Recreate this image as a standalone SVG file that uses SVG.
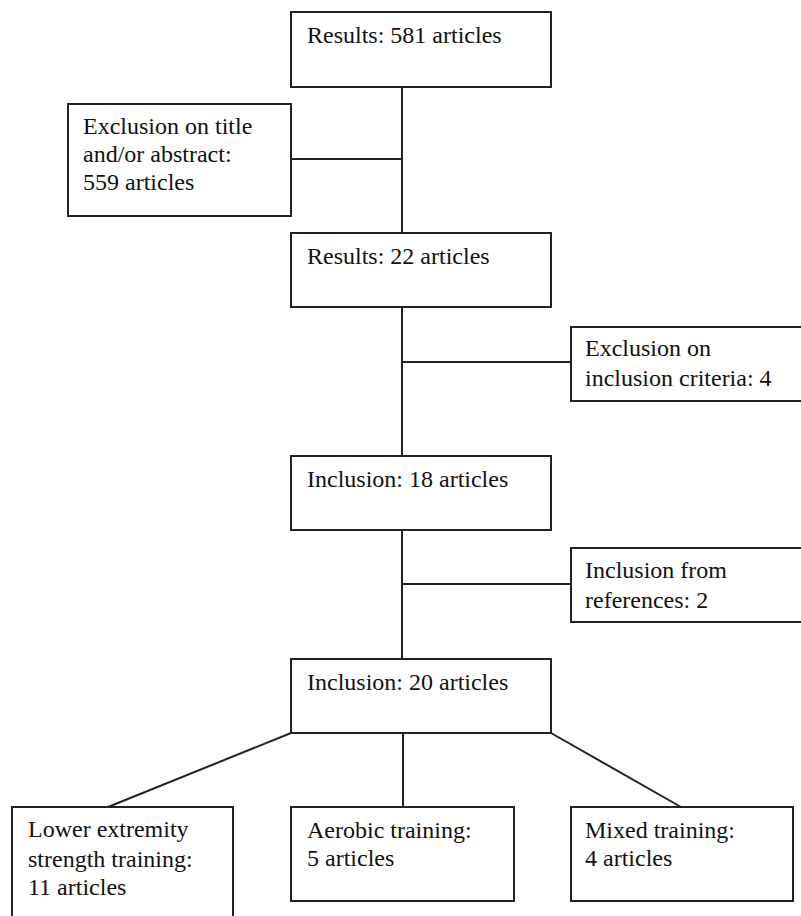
<svg xmlns="http://www.w3.org/2000/svg" width="801" height="916" viewBox="0 0 801 916">
<style>
.box{fill:#fff;stroke:#222;stroke-width:2}
.ln{stroke:#222;stroke-width:2;fill:none}
text{font-family:"Liberation Serif","Times New Roman",serif;font-size:24px;fill:#111}
</style>
<rect width="801" height="916" fill="#fff"/>
<g id="connectors">
<line class="ln" x1="402" y1="87" x2="402" y2="233"/>
<line class="ln" x1="291" y1="159" x2="402" y2="159"/>
<line class="ln" x1="402" y1="307" x2="402" y2="456"/>
<line class="ln" x1="402" y1="362" x2="571" y2="362"/>
<line class="ln" x1="402" y1="530" x2="402" y2="659"/>
<line class="ln" x1="402" y1="584" x2="571" y2="584"/>
<line class="ln" x1="403" y1="733" x2="403" y2="807"/>
<line class="ln" x1="291" y1="733" x2="108" y2="807"/>
<line class="ln" x1="551" y1="733" x2="681" y2="807"/>
</g>
<g id="n1"><rect class="box" x="291" y="12" width="260" height="75"/><text x="307" y="43">Results: 581 articles</text></g>
<g id="n2"><rect class="box" x="68" y="104" width="223" height="112"/><text x="83" y="134">Exclusion on title</text><text x="83" y="162">and/or abstract:</text><text x="83" y="190">559 articles</text></g>
<g id="n3"><rect class="box" x="291" y="233" width="260" height="74"/><text x="307" y="264">Results: 22 articles</text></g>
<g id="n4"><rect class="box" x="571" y="327" width="240" height="74"/><text x="585" y="356">Exclusion on</text><text x="585" y="386">inclusion criteria: 4</text></g>
<g id="n5"><rect class="box" x="291" y="456" width="260" height="74"/><text x="307" y="487">Inclusion: 18 articles</text></g>
<g id="n6"><rect class="box" x="571" y="548" width="240" height="74"/><text x="585" y="578">Inclusion from</text><text x="585" y="608">references: 2</text></g>
<g id="n7"><rect class="box" x="291" y="659" width="260" height="74"/><text x="307" y="690">Inclusion: 20 articles</text></g>
<g id="n8"><rect class="box" x="12" y="807" width="221" height="120"/><text x="28" y="837">Lower extremity</text><text x="28" y="867">strength training:</text><text x="28" y="895">11 articles</text></g>
<g id="n9"><rect class="box" x="291" y="807" width="223" height="94"/><text x="307" y="838">Aerobic training:</text><text x="307" y="866">5 articles</text></g>
<g id="n10"><rect class="box" x="571" y="807" width="222" height="94"/><text x="585" y="838">Mixed training:</text><text x="585" y="866">4 articles</text></g>
</svg>
